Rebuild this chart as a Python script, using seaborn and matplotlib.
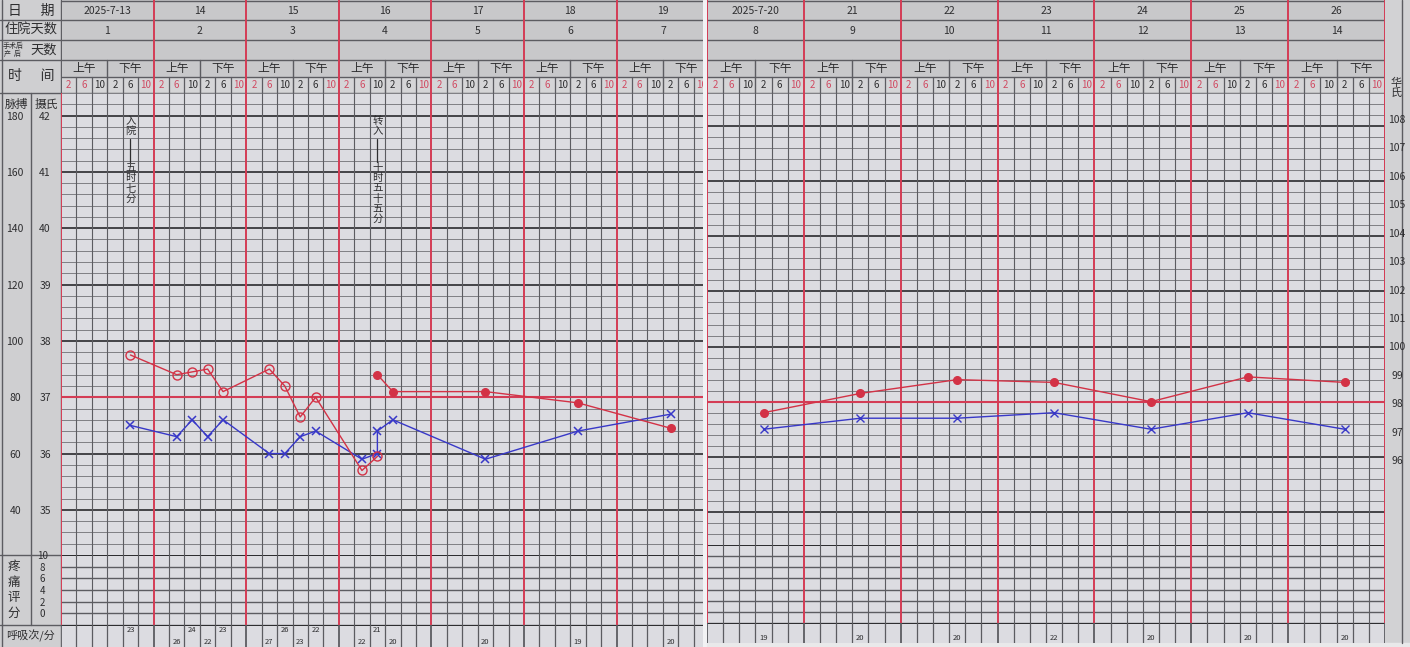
import numpy as np
import pandas as pd
import matplotlib
matplotlib.use('Agg')
import matplotlib.pyplot as plt
import seaborn as sns

sns.set_theme(style='white')
plt.rcParams['font.family'] = ['Noto Sans CJK SC', 'DejaVu Sans']
plt.rcParams['axes.unicode_minus'] = False

# ---------------- data ----------------
hours = [2, 6, 10, 14, 18, 22]
hour_labels = ['2', '6', '10', '2', '6', '10']

dates_1 = ['2025-7-13', '14', '15', '16', '17', '18', '19']
stay_1 = ['1', '2', '3', '4', '5', '6', '7']
dates_2 = ['2025-7-20', '21', '22', '23', '24', '25', '26']
stay_2 = ['8', '9', '10', '11', '12', '13', '14']

temp_ticks_c = [35, 36, 37, 38, 39, 40, 41, 42]
pulse_ticks = [40, 60, 80, 100, 120, 140, 160, 180]
pain_ticks = [0, 2, 4, 6, 8, 10]
temp_ticks_f = [96, 97, 98, 99, 100, 101, 102, 103, 104, 105, 106, 107, 108]

# week 1 (day index 0 = 7-13): axillary temperature, blue x
temp1_day = [0, 1, 1, 1, 1, 2, 2, 2, 2, 3, 3, 3, 3, 4, 5, 6]
temp1_hour = [18, 6, 10, 14, 18, 6, 10, 14, 18, 6, 10, 10, 14, 14, 14, 14]
temp1_val = [36.5, 36.3, 36.6, 36.3, 36.6, 36.0, 36.0, 36.3, 36.4, 35.9, 36.0, 36.4, 36.6, 35.9, 36.4, 36.7]

# week 1 pulse, open circles (before transfer)
pulse1a_day = [0, 1, 1, 1, 1, 2, 2, 2, 2, 3, 3]
pulse1a_hour = [18, 6, 10, 14, 18, 6, 10, 14, 18, 6, 10]
pulse1a_val = [95, 88, 89, 90, 82, 90, 84, 73, 80, 54, 59]

# week 1 pulse, filled dots (after transfer)
pulse1b_day = [3, 3, 4, 5, 6]
pulse1b_hour = [10, 14, 14, 14, 14]
pulse1b_val = [88, 82, 82, 78, 69]

# week 1 breathing rate
breath1_day = [0, 1, 1, 1, 1, 2, 2, 2, 2, 3, 3, 3, 4, 5, 6]
breath1_hour = [18, 6, 10, 14, 18, 6, 10, 14, 18, 6, 10, 14, 14, 14, 14]
breath1_val = [23, 26, 24, 22, 23, 27, 26, 23, 22, 22, 21, 20, 20, 19, 20]

# week 2 (day index 0 = 7-20), one reading a day at 14h
week2_day = [0, 1, 2, 3, 4, 5, 6]
week2_hour = [14, 14, 14, 14, 14, 14, 14]
temp2_val = [36.5, 36.7, 36.7, 36.8, 36.5, 36.8, 36.5]
pulse2_val = [76, 83, 88, 87, 80, 89, 87]
breath2_val = [19, 20, 20, 22, 20, 20, 20]

# event notes
admit_day, admit_hour = 0, 18
admit_text = ['入院', '五时七分']
transfer_day, transfer_hour = 3, 10
transfer_text = ['转入', '十时五十五分']

# ---------------- style ----------------
RED = '#d43c55'
RED_TXT = '#d04a62'
BLUE = '#3838c8'
PULSE_RED = '#d33246'
GRID = '#5c5c61'
ROW = '#707075'
DARK = '#2a2a2d'
TXT = '#2e2e30'
CELL = '#dcdce1'
HDR = '#c8c8ca'
HOURBG = '#d5d5d7'
LABELBG = '#cfcfd1'

W, H = 1410, 647
fig = plt.figure(figsize=(W / 100, H / 100), dpi=100)
fig.patch.set_facecolor(LABELBG)


def px_axes(x0, y0, x1, y1):
    return fig.add_axes([x0 / W, 1 - y1 / H, (x1 - x0) / W, (y1 - y0) / H])


def bare(ax):
    ax.set_xticks([])
    ax.set_yticks([])
    ax.set_xlabel('')
    ax.set_ylabel('')
    for s in ax.spines.values():
        s.set_visible(False)


def slot_x(days, hrs):
    return [d * 6 + hours.index(h) + 0.5 for d, h in zip(days, hrs)]


# background: label columns, separators
bg = fig.add_axes([0, 0, 1, 1])
bg.set_xlim(0, W)
bg.set_ylim(H, 0)
bg.axis('off')
bg.axvspan(703, 707, color='#f2f2f4')
bg.axvspan(1385, 1410, color='#d2d2d4')
bg.fill_between([707, 1410], 643, 647, color='#e9e9ea')
for y in [20, 40, 60, 93, 555, 625]:
    bg.plot([0, 61], [y, y], color=GRID, lw=1.0)
bg.plot([31, 31], [93, 625], color=GRID, lw=1.0)
bg.plot([61, 61], [0, 647], color=GRID, lw=1.0)
bg.plot([2, 2], [0, 647], color=GRID, lw=1.0)
bg.plot([1402, 1402], [0, 643], color=GRID, lw=1.0)
bg.text(31, 10.5, '日      期', ha='center', va='center', fontsize=10, color=TXT)
bg.text(31, 30.5, '住院天数', ha='center', va='center', fontsize=9.5, color=TXT)
bg.text(13, 46, '手术后', ha='center', va='center', fontsize=5, color=TXT)
bg.text(13, 54, '产  后', ha='center', va='center', fontsize=5, color=TXT)
bg.text(44, 50.5, '天数', ha='center', va='center', fontsize=9.5, color=TXT)
bg.text(31, 76, '时      间', ha='center', va='center', fontsize=10, color=TXT)
bg.text(16, 104, '脉搏', ha='center', va='center', fontsize=8.5, color=TXT)
bg.text(46, 104, '摄氏', ha='center', va='center', fontsize=8.5, color=TXT)
bg.text(14, 590, '疼\n痛\n评\n分', ha='center', va='center', fontsize=9, color=TXT, linespacing=1.25)
bg.text(31, 636, '呼吸次/分', ha='center', va='center', fontsize=8, color=TXT)
bg.text(1396, 88, '华\n氏', ha='center', va='center', fontsize=8, color=TXT, linespacing=0.95)


def draw_header(ax, xmax, dates, stays, first_red):
    bare(ax)
    ax.set_xlim(0, xmax)
    ax.set_ylim(93, 0)
    ax.set_facecolor(HDR)
    ax.axhspan(77, 93, color=HOURBG, zorder=0)
    for y in [0.6, 20, 40, 60, 77, 92.5]:
        ax.axhline(y, color=GRID, lw=1.0)
    for d in range(8):
        ax.axvline(d * 6, color=RED if (d > 0 or first_red) else GRID, lw=1.4)
    for d in range(7):
        c = d * 6
        ax.text(c + 3, 10.5, dates[d], ha='center', va='center', fontsize=7.5, color=TXT, clip_on=True)
        ax.text(c + 3, 30.5, stays[d], ha='center', va='center', fontsize=7.5, color=TXT, clip_on=True)
        ax.plot([c + 3, c + 3], [60, 93], color=GRID, lw=1.0)
        ax.text(c + 1.5, 68.5, '上午', ha='center', va='center', fontsize=8.5, color=TXT, clip_on=True)
        ax.text(c + 4.5, 68.5, '下午', ha='center', va='center', fontsize=8.5, color=TXT, clip_on=True)
        for s in range(6):
            if s not in (0, 3):
                ax.plot([c + s, c + s], [77, 93], color=GRID, lw=0.9)
            ax.text(c + s + 0.5, 85.5, hour_labels[s], ha='center', va='center', fontsize=7,
                    color=RED_TXT if s in (0, 1, 5) else TXT, clip_on=True)


def draw_temp_grid(ax, xmax, lo, hi):
    bare(ax)
    ax.set_xlim(0, xmax)
    ax.set_ylim(lo, hi)
    ax.set_facecolor(CELL)
    n = int(round((hi - lo) / 0.2))
    for i in range(n + 1):
        v = round(lo + i * 0.2, 1)
        if abs(v - 37) < 1e-6:
            ax.axhline(v, color=RED, lw=1.5, zorder=2)
        elif abs(v - round(v)) < 1e-6:
            ax.axhline(v, color=DARK, lw=1.2, zorder=1)
        else:
            ax.axhline(v, color=ROW, lw=0.6, zorder=1)
    for k in range(0, int(xmax) + 1):
        if k % 6 == 0:
            ax.axvline(k, color=RED, lw=1.4, zorder=2)
        else:
            ax.axvline(k, color=GRID, lw=0.8, zorder=1)


def draw_pain_grid(ax, xmax, lo, hi):
    bare(ax)
    ax.set_xlim(0, xmax)
    ax.set_ylim(lo, hi)
    ax.set_facecolor(CELL)
    for v in range(lo, hi + 1, 2):
        ax.axhline(v, color=DARK if v == hi else GRID, lw=1.4 if v == hi else 1.0)
    for k in range(0, int(xmax) + 1):
        if k % 6 == 0:
            ax.axvline(k, color=RED, lw=1.4, zorder=2)
        else:
            ax.axvline(k, color=GRID, lw=0.8)


def draw_breath(ax, xmax, days, hrs, vals):
    bare(ax)
    ax.set_xlim(0, xmax)
    ax.set_ylim(0, 1)
    ax.set_facecolor(CELL)
    ax.axhline(1, color=DARK, lw=1.4)
    for k in range(0, int(xmax) + 1):
        ax.axvline(k, color=GRID, lw=0.9 if k % 6 else 1.3)
    for x, v in zip(slot_x(days, hrs), vals):
        up = int(x) % 2 == 0
        ax.text(x, 0.78 if up else 0.24, str(v), ha='center', va='center', fontsize=5.5, color=TXT)


def vertical_note(ax, x, y_top, words, px_per_deg):
    step = 10.2 / px_per_deg
    y = y_top
    for ch in words[0]:
        ax.text(x, y, ch, ha='center', va='center', fontsize=7.5, color=TXT, zorder=5)
        y -= step
    ax.plot([x, x], [y + 0.3 * step, y - 2.0 * step], color=TXT, lw=0.9, zorder=5)
    y -= 2.6 * step
    for ch in words[1]:
        ax.text(x, y, ch, ha='center', va='center', fontsize=7.5, color=TXT, zorder=5)
        y -= step


def series(ax, days, hrs, vals, color, marker, ms, face, mew):
    df = pd.DataFrame({'x': slot_x(days, hrs), 'v': vals})
    sns.lineplot(data=df, x='x', y='v', ax=ax, estimator=None, sort=False, legend=False,
                 color=color, linewidth=1.0, marker=marker, markersize=ms,
                 markeredgecolor=color, markerfacecolor=face, markeredgewidth=mew, zorder=4)
    ax.set_xlabel('')
    ax.set_ylabel('')


# ---------------- left panel (7-13 .. 7-19) ----------------
L_X0, L_X1 = 61, 703
L_SLOT = 92.6 / 6
L_XMAX = (L_X1 - L_X0) / L_SLOT

hdr1 = px_axes(L_X0, 0, L_X1, 93)
draw_header(hdr1, L_XMAX, dates_1, stay_1, first_red=False)

t1 = px_axes(L_X0, 93, L_X1, 555)
draw_temp_grid(t1, L_XMAX, 34.2, 42.4)
t1.set_yticks(temp_ticks_c)
t1.set_yticklabels([str(v) for v in temp_ticks_c])
t1.tick_params(axis='y', left=True, labelleft=True, length=0, pad=11.5, labelsize=7.5, labelcolor=TXT)
for lab in t1.get_yticklabels():
    lab.set_ha('center')

p1 = t1.twinx()
bare(p1)
p1.set_ylim(20 * (34.2 - 42) + 180, 20 * (42.4 - 42) + 180)
p1.yaxis.tick_left()
p1.set_yticks(pulse_ticks)
p1.set_yticklabels([str(v) for v in pulse_ticks])
p1.tick_params(axis='y', left=True, labelleft=True, right=False, labelright=False,
               length=0, pad=33, labelsize=7.5, labelcolor=TXT)
for lab in p1.get_yticklabels():
    lab.set_ha('center')

series(t1, temp1_day, temp1_hour, temp1_val, BLUE, 'x', 6, BLUE, 1.1)
series(p1, pulse1a_day, pulse1a_hour, pulse1a_val, PULSE_RED, 'o', 6.5, 'none', 1.0)
series(p1, pulse1b_day, pulse1b_hour, pulse1b_val, PULSE_RED, 'o', 5.5, PULSE_RED, 1.0)
p1.set_xlim(0, L_XMAX)

vertical_note(t1, slot_x([admit_day], [admit_hour])[0], 41.9, admit_text, 56.34)
vertical_note(t1, slot_x([transfer_day], [transfer_hour])[0], 41.9,
              transfer_text, 56.34)

pain1 = px_axes(L_X0, 555, L_X1, 625)
draw_pain_grid(pain1, L_XMAX, -2, 10)
pain1.set_yticks(pain_ticks)
pain1.set_yticklabels([str(v) for v in pain_ticks])
pain1.tick_params(axis='y', left=True, labelleft=True, length=0, pad=13.5, labelsize=7, labelcolor=TXT)
for lab in pain1.get_yticklabels():
    lab.set_ha('center')

br1 = px_axes(L_X0, 625, L_X1, 647)
draw_breath(br1, L_XMAX, breath1_day, breath1_hour, breath1_val)

# ---------------- right panel (7-20 .. 7-26) ----------------
R_X0, R_X1 = 707, 1385
R_XMAX = 42

hdr2 = px_axes(R_X0, 0, R_X1, 93)
draw_header(hdr2, R_XMAX, dates_2, stay_2, first_red=True)

t2 = px_axes(R_X0, 93, R_X1, 545)
draw_temp_grid(t2, R_XMAX, 34.4, 42.6)
t2.axvline(R_XMAX, color=RED, lw=1.4, zorder=2)

p2 = t2.twinx()
bare(p2)
p2.set_ylim(20 * (34.4 - 42) + 180, 20 * (42.6 - 42) + 180)

f2 = t2.twinx()
bare(f2)
f2.set_ylim(108 - (545 - 119) * 12 / 341, 108 + (119 - 93) * 12 / 341)
f2.set_yticks(temp_ticks_f)
f2.set_yticklabels([str(v) for v in temp_ticks_f])
f2.tick_params(axis='y', right=True, labelright=True, length=0, pad=8.6, labelsize=7.5, labelcolor=TXT)
for lab in f2.get_yticklabels():
    lab.set_ha('center')

series(t2, week2_day, week2_hour, temp2_val, BLUE, 'x', 6, BLUE, 1.0)
series(p2, week2_day, week2_hour, pulse2_val, PULSE_RED, 'o', 5.5, PULSE_RED, 1.0)
p2.set_xlim(0, R_XMAX)

pain2 = px_axes(R_X0, 545, R_X1, 623)
draw_pain_grid(pain2, R_XMAX, -4, 10)
pain2.axvline(R_XMAX, color=RED, lw=1.4, zorder=2)

br2 = px_axes(R_X0, 623, R_X1, 643)
draw_breath(br2, R_XMAX, week2_day, week2_hour, breath2_val)

fig.savefig('out.png', dpi=100, facecolor=fig.get_facecolor())
